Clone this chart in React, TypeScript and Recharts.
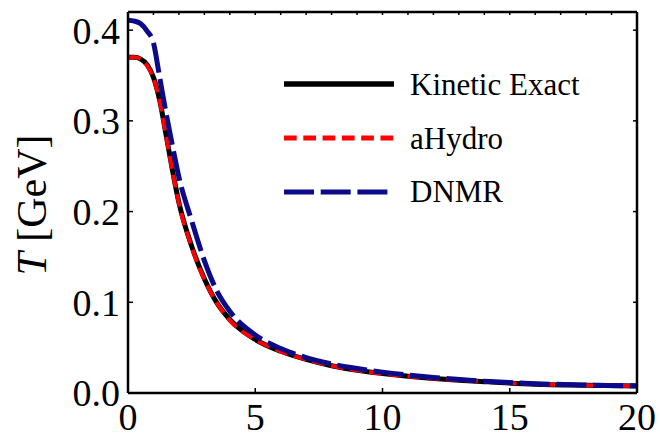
import { LineChart, Line, XAxis, YAxis, Legend } from 'recharts'

// proper time (fm/c) and temperature (GeV) for each solution
const tau = [0, 0.25, 0.5, 0.75, 1, 1.25, 1.5, 1.75, 2, 2.5, 3, 3.5, 4, 5, 6, 7, 8, 9, 10, 12, 14, 16, 18, 20]
const kineticExact = [
  0.37, 0.37, 0.368, 0.362, 0.348, 0.322, 0.284, 0.245, 0.21, 0.162, 0.126, 0.099, 0.081, 0.059, 0.046,
  0.037, 0.03, 0.025, 0.0215, 0.016, 0.0125, 0.0097, 0.0085, 0.0077,
]
const aHydro = [
  0.37, 0.37, 0.368, 0.361, 0.347, 0.321, 0.283, 0.244, 0.209, 0.161, 0.125, 0.099, 0.08, 0.059, 0.046,
  0.037, 0.03, 0.025, 0.0214, 0.016, 0.0125, 0.0097, 0.0085, 0.0077,
]
const dnmr = [
  0.411, 0.41, 0.407, 0.399, 0.386, 0.347, 0.308, 0.272, 0.238, 0.19, 0.146, 0.112, 0.09, 0.064, 0.049,
  0.039, 0.032, 0.027, 0.023, 0.0172, 0.013, 0.0103, 0.0088, 0.0079,
]

const xMajor = [0, 5, 10, 15, 20]
const xMinor = Array.from({ length: 21 }, (_, i) => i)
const yMajor = [0, 0.1, 0.2, 0.3, 0.4]

const data = tau.map((t, i) => ({ tau: t, kinetic: kineticExact[i], ahydro: aHydro[i], dnmr: dnmr[i] }))

const FONT = '"Liberation Serif", "DejaVu Serif", serif'
const BLUE = '#0a0a8a'
const RED = '#ff0000'

const tickStyle = { fontSize: 38, fill: '#000', fontFamily: FONT }
const frame = { stroke: '#000', strokeWidth: 2.5 }
const tickLine = { stroke: '#000', strokeWidth: 1.5 }
const noLabel = () => <g />

function LegendBox() {
  const items = [
    { label: 'Kinetic Exact', color: '#000', dash: undefined, width: 5.5 },
    { label: 'aHydro', color: RED, dash: '12.7 6.6', width: 5 },
    { label: 'DNMR', color: BLUE, dash: '30 6.7', width: 5 },
  ]
  return (
    <svg width={340} height={160}>
      {items.map((it, i) => (
        <g key={it.label}>
          <line x1={4} x2={114} y1={24 + i * 54} y2={24 + i * 54} stroke={it.color} strokeWidth={it.width} strokeDasharray={it.dash} />
          <text x={130} y={35 + i * 53.5} fontSize={31} fontFamily={FONT} fill="#000">
            {it.label}
          </text>
        </g>
      ))}
    </svg>
  )
}

export default function App() {
  return (
    <div style={{ position: 'absolute', left: 0, top: 0, width: 660, height: 440, background: '#fff' }}>
      <LineChart width={660} height={440} data={data} margin={{ top: 11, right: 22, bottom: 0, left: 0 }}>
        <XAxis
          xAxisId="b"
          dataKey="tau"
          type="number"
          domain={[0, 20]}
          ticks={xMajor}
          height={47}
          axisLine={frame}
          tickLine={tickLine}
          tickSize={-5}
          tickMargin={15}
          tick={tickStyle}
          interval={0}
        />
        {/* frame top edge with minor ticks every unit */}
        <XAxis
          xAxisId="t"
          dataKey="tau"
          type="number"
          orientation="top"
          domain={[0, 20]}
          ticks={xMinor}
          height={1}
          axisLine={frame}
          tickLine={tickLine}
          tickSize={-3}
          tick={noLabel}
          interval={0}
        />
        <YAxis
          yAxisId="l"
          type="number"
          domain={[0, 0.42]}
          ticks={yMajor}
          width={128}
          axisLine={frame}
          tickLine={tickLine}
          tickSize={-5}
          tickMargin={13}
          tick={tickStyle}
          tickFormatter={(v: number) => v.toFixed(1)}
          interval={0}
          label={() => (
            <text x={46} y={205} transform="rotate(-90 46 205)" textAnchor="middle" fontSize={42} fontFamily={FONT} fill="#000">
              <tspan fontStyle="italic">T</tspan> [GeV]
            </text>
          )}
        />
        {/* frame right edge */}
        <YAxis
          yAxisId="r"
          type="number"
          orientation="right"
          domain={[0, 0.42]}
          ticks={yMajor}
          width={1}
          axisLine={frame}
          tickLine={tickLine}
          tickSize={-4}
          tick={noLabel}
          interval={0}
        />
        <Legend
          layout="vertical"
          align="center"
          verticalAlign="middle"
          wrapperStyle={{ position: 'absolute', left: 280, top: 60, width: 340, height: 160 }}
          content={() => <LegendBox />}
        />
        <Line xAxisId="b" yAxisId="l" type="monotone" dataKey="kinetic" stroke="#000" strokeWidth={5} dot={false} isAnimationActive={false} />
        <Line xAxisId="b" yAxisId="l" type="monotone" dataKey="ahydro" stroke={RED} strokeWidth={4} strokeDasharray="12.7 6.6" dot={false} isAnimationActive={false} />
        <Line xAxisId="t" yAxisId="r" type="monotone" dataKey="dnmr" stroke={BLUE} strokeWidth={5} strokeDasharray="30 6.7" dot={false} isAnimationActive={false} />
      </LineChart>
    </div>
  )
}
